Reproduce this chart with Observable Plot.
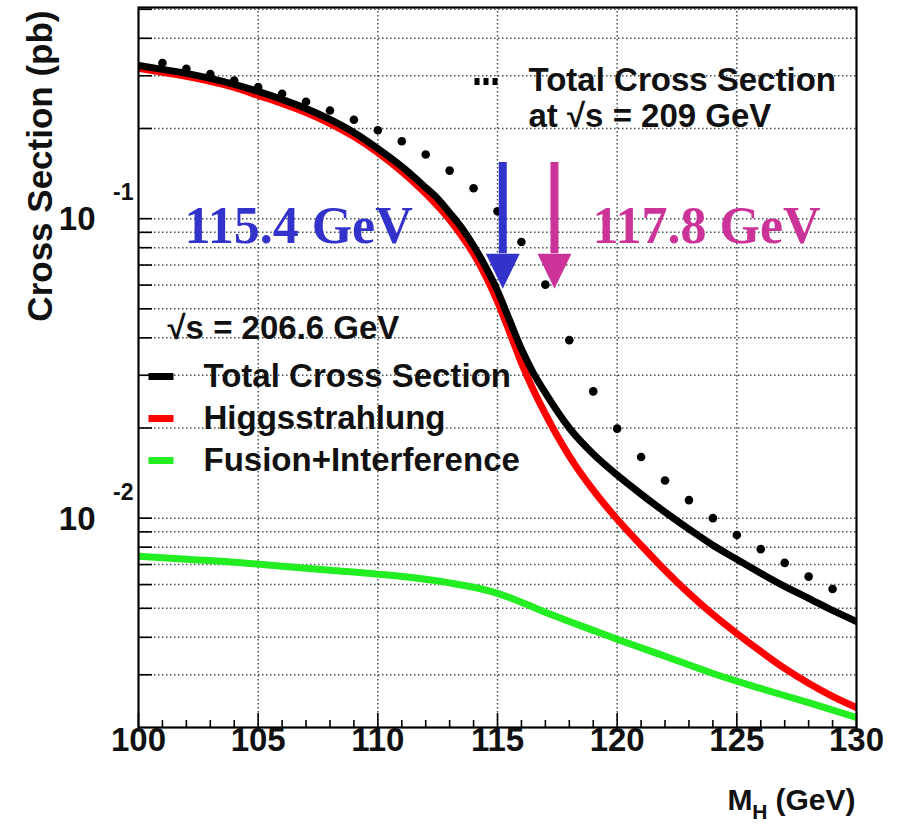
<!DOCTYPE html>
<html><head><meta charset="utf-8">
<script src="https://cdn.jsdelivr.net/npm/d3@7"></script>
<script src="https://cdn.jsdelivr.net/npm/@observablehq/plot@0.6"></script>
<style>body{margin:0;background:#fff;} svg{display:block;}</style>
</head><body><div id="chart"></div>
<script>
// ---- data ----
const massTotal = [100,101,102,103,104,105,106,107,108,109,110,111,112,112.5,113,113.5,114,114.5,115,115.5,116,116.5,117,118,119,120,121,122,123,124,125,126,127,128,129,130];
const total2066 = [0.3248,0.3150,0.3054,0.2939,0.2807,0.2659,0.2500,0.2333,0.2144,0.1940,0.1714,0.1493,0.1270,0.1167,0.1047,0.0933,0.0812,0.0691,0.0574,0.0459,0.0367,0.0305,0.0262,0.0200,0.01637,0.01393,0.01203,0.01047,0.00919,0.00812,0.00729,0.00655,0.00592,0.00540,0.00492,0.00452];
const massHS = [100,101,102,103,104,105,106,107,108,109,110,111,112,113,113.5,114,114.5,115,115.5,116,116.5,117,117.5,118,119,120,121,122,123,124,125,126,127,128,129,130];
const higgsstrahlung = [0.3175,0.3079,0.2985,0.2873,0.2743,0.2578,0.2424,0.2262,0.2078,0.1880,0.1662,0.1437,0.1213,0.0992,0.0877,0.0764,0.0645,0.0528,0.0419,0.0330,0.0268,0.0223,0.0188,0.01612,0.01240,0.00992,0.00812,0.00670,0.00561,0.00477,0.00412,0.00359,0.00315,0.00281,0.00254,0.00233];
const massFusion = [100,102,104,106,108,110,112,113,114,115,116,117,118,119,120,122,124,126,128,130];
const fusion = [0.00746,0.00729,0.00713,0.00691,0.00670,0.00650,0.00625,0.00608,0.00588,0.00561,0.00524,0.00485,0.00452,0.00422,0.00394,0.00346,0.00303,0.00270,0.00242,0.00216];
const mass209 = [101,102,103,104,105,106,107,108,109,110,111,112,113,114,115,116,117,118,119,120,121,122,123,124,125,126,127,128,129];
const total209 = [0.3307,0.3167,0.3039,0.2894,0.2748,0.2612,0.2456,0.2297,0.2138,0.1974,0.1814,0.1637,0.1447,0.1263,0.1058,0.0836,0.0602,0.0393,0.0265,0.0199,0.0160,0.01335,0.01149,0.0100,0.00879,0.00788,0.00709,0.00638,0.0058];

const xTicks = [100,105,110,115,120,125,130];
const xGrid = [105,110,115,120,125];
const xMinorTicks = [101,102,103,104,106,107,108,109,111,112,113,114,116,117,118,119,121,122,123,124,126,127,128,129];
const yDecades = [0.01, 0.1];
const yExponents = ["-2", "-1"];
const yGrid = [0.003,0.004,0.005,0.006,0.007,0.008,0.009,0.01,0.02,0.03,0.04,0.05,0.06,0.07,0.08,0.09,0.1,0.2,0.3,0.4,0.5];

const legendLabels = ["Total Cross Section", "Higgsstrahlung", "Fusion+Interference"];
const legendColors = ["#000000", "#ff0000", "#22ee22"];

const arrowMass = [115.22, 117.38];
const arrowTop = 0.154;
const arrowHeadBase = 0.0764;
const arrowLabels = ["115.4 GeV", "117.8 GeV"];
const arrowColors = ["#3333cc", "#cc3399"];

// ---- build ----
const SANS = "Liberation Sans, Arial, Helvetica, sans-serif";
const SERIF = "Liberation Serif, Times New Roman, serif";
const toRows = (xs, ys) => xs.map((m, i) => ({m, v: ys[i]}));

const dashSymbol = {draw(ctx) { ctx.moveTo(-12.5,-3.5); ctx.lineTo(12.5,-3.5); ctx.lineTo(12.5,3.5); ctx.lineTo(-12.5,3.5); ctx.closePath(); }};
const tripleDot = {draw(ctx) { for (const cx of [-9,0,9]) { ctx.moveTo(cx-2.5,-3.5); ctx.lineTo(cx+2.5,-3.5); ctx.lineTo(cx+2.5,3.5); ctx.lineTo(cx-2.5,3.5); ctx.closePath(); } }};
const headSymbol = {draw(ctx) { ctx.moveTo(-17,0); ctx.lineTo(17,0); ctx.lineTo(0,35); ctx.closePath(); }};

const FL = 138, FT = 7;
const gridStyle = {stroke: "#223333", strokeWidth: 1.5, strokeDasharray: "1.5,2.5", strokeOpacity: 0.85};
const marks = [
  Plot.ruleX(xGrid, {x: d => d, ...gridStyle}),
  Plot.ruleY(yGrid, {y: d => d, ...gridStyle}),
  // ticks (inward)
  Plot.tickX(xMinorTicks, {x: d => d, insetTop: 713, stroke: "black", strokeWidth: 1.6}),
  Plot.tickX(xTicks, {x: d => d, insetTop: 706, stroke: "black", strokeWidth: 1.6}),
  Plot.tickY(yGrid, {y: d => d, insetRight: 704, stroke: "black", strokeWidth: 1.6}),
  // curves
  Plot.line(toRows(massFusion, fusion), {x: "m", y: "v", stroke: legendColors[2], strokeWidth: 7, curve: "monotone-x", clip: true}),
  Plot.line(toRows(massHS, higgsstrahlung), {x: "m", y: "v", stroke: legendColors[1], strokeWidth: 7, curve: "monotone-x", clip: true}),
  Plot.line(toRows(massTotal, total2066), {x: "m", y: "v", stroke: legendColors[0], strokeWidth: 7, curve: "monotone-x", clip: true}),
  Plot.dot(toRows(mass209, total209), {x: "m", y: "v", r: 4.3, fill: "black", stroke: "none"}),
  Plot.frame({stroke: "black", strokeWidth: 2.2}),
  // x tick labels
  Plot.text(xTicks, {x: d => d, frameAnchor: "bottom", dy: 23, text: d => String(d), fontSize: 33, fontWeight: "bold", fontFamily: SANS, fill: "#111"}),
  // y tick labels 10^n
  Plot.text(yDecades, {y: d => d, frameAnchor: "left", dx: -43, dy: 1, textAnchor: "end", text: () => "10", fontSize: 33, fontWeight: "bold", fontFamily: SANS, fill: "#111"}),
  Plot.text(yDecades, {y: d => d, frameAnchor: "left", dx: -5, dy: -26, textAnchor: "end", text: (d, i) => yExponents[i], fontSize: 23, fontWeight: "bold", fontFamily: SANS, fill: "#111"}),
  // axis titles
  Plot.text(["Cross Section (pb)"], {frameAnchor: "top-left", dx: 51 - FL, dy: 10 - FT, rotate: -90, textAnchor: "end", lineAnchor: "bottom", text: d => d, fontSize: 35, fontWeight: "bold", fontFamily: SANS, fill: "#111"}),
  Plot.text(["(GeV)"], {frameAnchor: "bottom-right", dx: -1, dy: 82, textAnchor: "end", lineAnchor: "bottom", text: d => d, fontSize: 30, fontWeight: "bold", fontFamily: SANS, fill: "#111"}),
  Plot.text(["H"], {frameAnchor: "bottom-right", dx: -89, dy: 91, textAnchor: "end", lineAnchor: "bottom", text: d => d, fontSize: 21, fontWeight: "bold", fontFamily: SANS, fill: "#111"}),
  Plot.text(["M"], {frameAnchor: "bottom-right", dx: -104, dy: 82, textAnchor: "end", lineAnchor: "bottom", text: d => d, fontSize: 30, fontWeight: "bold", fontFamily: SANS, fill: "#111"}),
  // top-right legend (209 GeV)
  Plot.dot([0], {frameAnchor: "top-left", dx: 485.5 - FL, dy: 81 - FT, symbol: tripleDot, fill: "black", stroke: "none"}),
  Plot.text(["Total Cross Section"], {frameAnchor: "top-left", dx: 528 - FL, dy: 90 - FT, textAnchor: "start", lineAnchor: "bottom", text: d => d, fontSize: 33, fontWeight: "bold", fontFamily: SANS, fill: "#111"}),
  Plot.text(["at \u221As = 209 GeV"], {frameAnchor: "top-left", dx: 528 - FL, dy: 126 - FT, textAnchor: "start", lineAnchor: "bottom", text: d => d, fontSize: 33, fontWeight: "bold", fontFamily: SANS, fill: "#111"}),
  // left legend (206.6 GeV)
  Plot.text(["\u221As = 206.6 GeV"], {frameAnchor: "top-left", dx: 167 - FL, dy: 338 - FT, textAnchor: "start", lineAnchor: "bottom", text: d => d, fontSize: 33, fontWeight: "bold", fontFamily: SANS, fill: "#111"})
];
legendLabels.forEach((lab, i) => {
  const base = 386 + i * 42;
  marks.push(Plot.dot([0], {frameAnchor: "top-left", dx: 160.5 - FL, dy: base - 10 - FT, symbol: dashSymbol, fill: legendColors[i], stroke: "none"}));
  marks.push(Plot.text([lab], {frameAnchor: "top-left", dx: 203 - FL, dy: base - FT, textAnchor: "start", lineAnchor: "bottom", text: d => d, fontSize: 33, fontWeight: "bold", fontFamily: SANS, fill: "#111"}));
});
arrowMass.forEach((m, i) => {
  marks.push(Plot.ruleX([m], {x: d => d, y1: arrowTop, y2: arrowHeadBase, stroke: arrowColors[i], strokeWidth: 8, strokeLinecap: "butt"}));
  marks.push(Plot.dot([{m, v: arrowHeadBase}], {x: "m", y: "v", symbol: headSymbol, fill: arrowColors[i], stroke: "none"}));
  marks.push(Plot.text([arrowLabels[i]], {x: () => m, frameAnchor: "top", dx: i === 0 ? -90 : 38, dy: 242 - FT, textAnchor: i === 0 ? "end" : "start", lineAnchor: "bottom", text: d => d, fontSize: 52, fontWeight: "bold", fontFamily: SERIF, fill: arrowColors[i]}));
});

const chart = Plot.plot({
  width: 902, height: 838,
  marginLeft: FL, marginRight: 46, marginTop: FT, marginBottom: 111,
  style: {fontFamily: SANS, background: "white"},
  x: {domain: [100, 130], axis: null},
  y: {type: "log", domain: [0.002, 0.507], axis: null},
  marks
});
document.getElementById("chart").appendChild(chart);
</script>
</body></html>
